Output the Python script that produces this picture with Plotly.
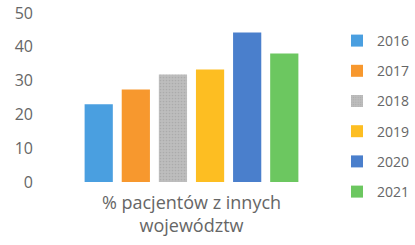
import plotly.graph_objects as go

category = ["% pacjentów z innych<br>województw"]
years = ["2016", "2017", "2018", "2019", "2020", "2021"]
values = [23.0, 27.4, 31.8, 33.3, 44.2, 38.0]
colors = ["#4A9FE0", "#F7982E", "#BDBDBD", "#FDBE22", "#4A7FCC", "#6CC760"]
y_ticks = [0, 10, 20, 30, 40, 50]

fig = go.Figure()
for i, (yr, v, c) in enumerate(zip(years, values, colors)):
    marker = dict(color=c, line=dict(width=0))
    if yr == "2018":
        marker["pattern"] = dict(shape=".", fgcolor="#9A9A9A", size=3, solidity=0.25, fillmode="overlay")
    fig.add_trace(go.Bar(x=category, y=[v], name=yr, marker=marker, legendgroup=yr))

W, H = 415, 245
font_family = "Open Sans, Liberation Sans, sans-serif"
txt = "#666666"
fig.update_layout(
    width=W, height=H,
    margin=dict(l=45, r=77, t=13, b=63, autoexpand=False),
    paper_bgcolor="white", plot_bgcolor="white",
    barmode="group", bargap=0.24, bargroupgap=0.24,
    font=dict(family=font_family, size=14, color=txt),
    showlegend=True,
    legend=dict(x=337 / W, y=1 - 25 / H, xref="container", yref="container",
                xanchor="left", yanchor="top", maxheight=235,
                font=dict(size=14, color=txt),
                tracegroupgap=9, itemwidth=30, traceorder="grouped"),
    xaxis=dict(showgrid=False, showline=False, zeroline=False, ticks="",
               ticklabelstandoff=8,
               tickfont=dict(size=18, color=txt)),
    yaxis=dict(range=[0, 50], tickvals=y_ticks, showgrid=False, showline=False,
               zeroline=False, ticks="", ticklabelstandoff=11,
               tickfont=dict(size=16, color=txt)),
)
fig.write_html("out.html", config={"displayModeBar": False},
               post_script="document.body.style.margin='0px';")
